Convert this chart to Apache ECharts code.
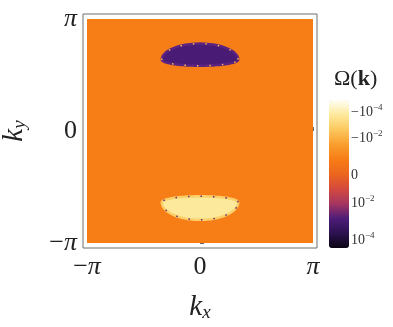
<!DOCTYPE html>
<html>
<head>
<meta charset="utf-8">
<script src="https://cdn.jsdelivr.net/npm/echarts@6/dist/echarts.min.js"></script>
<style>
html, body { margin: 0; padding: 0; background: #fff; }
#main { width: 393px; height: 327px; }
</style>
</head>
<body>
<div id="main"></div>
<script>
var PI = Math.PI;

// k-space ticks
var kTicks = [-PI, 0, PI];
var kTickLabels = ['{m|\u2212}{p|\u03c0}', '{n|0}', '{p|\u03c0}'];

// colour bar ticks (position along the bar, 0 = bottom, 1 = top)
var cbTicks = [0.054, 0.304, 0.493, 0.743, 0.919];
var cbTickLabels = ['{b|10}{s|\u22124}', '{b|10}{s|\u22122}', '{b|0}', '{b|\u221210}{s|\u22122}', '{b|\u221210}{s|\u22124}'];
var cbColors = ['#0a0512', '#2c1250', '#4d1c78', '#a63660', '#d44a3e', '#ec661e',
                '#f77d16', '#f99e2e', '#fcc85e', '#fde99c', '#fffef6'];

// background plateau: [level, kxMin, kxMax, kyMin, kyMax]
var field = [[0.6, -PI, PI, -PI, PI]];
// pockets: [level, kx, ky, halfWidth, upperHalfHeight, lowerHalfHeight]
var pockets = [
    [0.19, 0, 2.0, 1.06, 0.45, 0.17],
    [0.9, 0, -2.0, 1.06, 0.17, 0.49]
];

var rimColors = ['#5b2382', '#fbd06a'];
var speckColors = ['#f7b54a', '#6b2a72'];

function pickLabel(ticks, labels, v) {
    var best = 0;
    for (var i = 1; i < ticks.length; i++) {
        if (Math.abs(ticks[i] - v) < Math.abs(ticks[best] - v)) best = i;
    }
    return labels[best];
}

function renderField(params, api) {
    var p0 = api.coord([api.value(1), api.value(4)]);
    var p1 = api.coord([api.value(2), api.value(3)]);
    return {
        type: 'rect',
        shape: { x: p0[0], y: p0[1], width: p1[0] - p0[0], height: p1[1] - p0[1] },
        style: { fill: api.visual('color') }
    };
}

function renderPocket(params, api) {
    var c = api.coord([api.value(1), api.value(2)]);
    var up = api.size([api.value(3), api.value(4)]);
    var dn = api.size([api.value(3), api.value(5)]);
    var pts = [];
    var n = 48;
    for (var i = 0; i <= n; i++) {
        var t = PI * i / n;
        pts.push([c[0] + up[0] * Math.cos(t), c[1] - up[1] * Math.sin(t)]);
    }
    for (var j = 1; j < n; j++) {
        var s = PI + PI * j / n;
        pts.push([c[0] + dn[0] * Math.cos(s), c[1] - dn[1] * Math.sin(s)]);
    }
    var k = params.dataIndex;
    return {
        type: 'group',
        children: [{
            type: 'polygon',
            shape: { points: pts },
            style: { fill: api.visual('color'), stroke: rimColors[k], lineWidth: 2.5 }
        }, {
            type: 'polygon',
            shape: { points: pts },
            style: { fill: null, stroke: speckColors[k], lineWidth: 1.5, lineDash: [1.5, 11] }
        }]
    };
}

var serif = 'Liberation Serif';

var myChart = echarts.init(document.getElementById('main'));
var option = {
    animation: false,
    backgroundColor: '#fff',
    title: {
        text: '{o|\u03a9(}{k|k}{o|)}',
        left: 334,
        top: 68,
        padding: 0,
        textStyle: {
            fontWeight: 'normal',
            rich: {
                o: { fontFamily: serif, fontSize: 22, fontWeight: 'normal', color: '#222' },
                k: { fontFamily: serif, fontSize: 22, fontWeight: 'bold', color: '#222' }
            }
        }
    },
    grid: [{
        left: 83, top: 14, width: 234, height: 234,
        outerBoundsMode: 'none',
        show: true, borderColor: '#6e6e6e', borderWidth: 1
    }, {
        left: 329, top: 100, width: 20, height: 148,
        outerBoundsMode: 'none'
    }],
    visualMap: {
        type: 'continuous',
        min: 0, max: 1,
        dimension: 0,
        seriesIndex: [0, 1],
        orient: 'vertical',
        left: 329, top: 100,
        itemWidth: 20, itemHeight: 148,
        padding: 0,
        text: null,
        calculable: false,
        hoverLink: false,
        inRange: { color: cbColors }
    },
    xAxis: [{
        type: 'value',
        gridIndex: 0,
        min: -3.253, max: 3.253,
        axisLine: { show: false },
        splitLine: { show: false },
        axisTick: { customValues: kTicks, inside: true, length: 4, lineStyle: { color: '#666' } },
        axisLabel: {
            customValues: kTicks,
            margin: 6,
            formatter: function (v) { return pickLabel(kTicks, kTickLabels, v); },
            rich: {
                m: { fontFamily: serif, fontSize: 26, color: '#222' },
                p: { fontFamily: serif, fontSize: 26, fontStyle: 'italic', color: '#222' },
                n: { fontFamily: serif, fontSize: 26, color: '#222' }
            }
        },
        name: '{k|k}{s|x}',
        nameLocation: 'middle',
        nameGap: 44,
        nameTextStyle: {
            rich: {
                k: { fontFamily: serif, fontSize: 29, fontStyle: 'italic', color: '#222', lineHeight: 30 },
                s: { fontFamily: serif, fontSize: 19, fontStyle: 'italic', color: '#222', lineHeight: 18, verticalAlign: 'bottom' }
            }
        }
    }, {
        type: 'value',
        gridIndex: 1,
        min: 0, max: 1,
        show: false
    }],
    yAxis: [{
        type: 'value',
        gridIndex: 0,
        min: -3.28, max: 3.28,
        axisLine: { show: false },
        splitLine: { show: false },
        axisTick: { customValues: kTicks, inside: true, length: 4, lineStyle: { color: '#666' } },
        axisLabel: {
            customValues: kTicks,
            margin: 6,
            formatter: function (v) { return pickLabel(kTicks, kTickLabels, v); },
            rich: {
                m: { fontFamily: serif, fontSize: 26, color: '#222' },
                p: { fontFamily: serif, fontSize: 26, fontStyle: 'italic', color: '#222' },
                n: { fontFamily: serif, fontSize: 26, color: '#222' }
            }
        },
        name: '{k|k}{s|y}',
        nameLocation: 'middle',
        nameGap: 54,
        nameRotate: 90,
        nameTextStyle: {
            rich: {
                k: { fontFamily: serif, fontSize: 29, fontStyle: 'italic', color: '#222', lineHeight: 30 },
                s: { fontFamily: serif, fontSize: 19, fontStyle: 'italic', color: '#222', lineHeight: 18, verticalAlign: 'bottom' }
            }
        }
    }, {
        type: 'value',
        gridIndex: 1,
        position: 'right',
        min: 0, max: 1,
        axisLine: { show: false },
        splitLine: { show: false },
        axisTick: { show: true, customValues: cbTicks, length: 3, lineStyle: { color: '#777' } },
        axisLabel: {
            customValues: cbTicks,
            margin: 2,
            formatter: function (v) { return pickLabel(cbTicks, cbTickLabels, v); },
            rich: {
                b: { fontFamily: serif, fontSize: 14, color: '#333', lineHeight: 18 },
                s: { fontFamily: serif, fontSize: 9, color: '#333', lineHeight: 10, verticalAlign: 'top' }
            }
        }
    }],
    series: [{
        name: 'field',
        type: 'custom',
        xAxisIndex: 0, yAxisIndex: 0,
        renderItem: renderField,
        encode: { x: [1, 2], y: [3, 4] },
        data: field,
        silent: true
    }, {
        name: 'pockets',
        type: 'custom',
        xAxisIndex: 0, yAxisIndex: 0,
        renderItem: renderPocket,
        encode: { x: 1, y: 2 },
        data: pockets,
        silent: true
    }]
};
myChart.setOption(option);
</script>
</body>
</html>
